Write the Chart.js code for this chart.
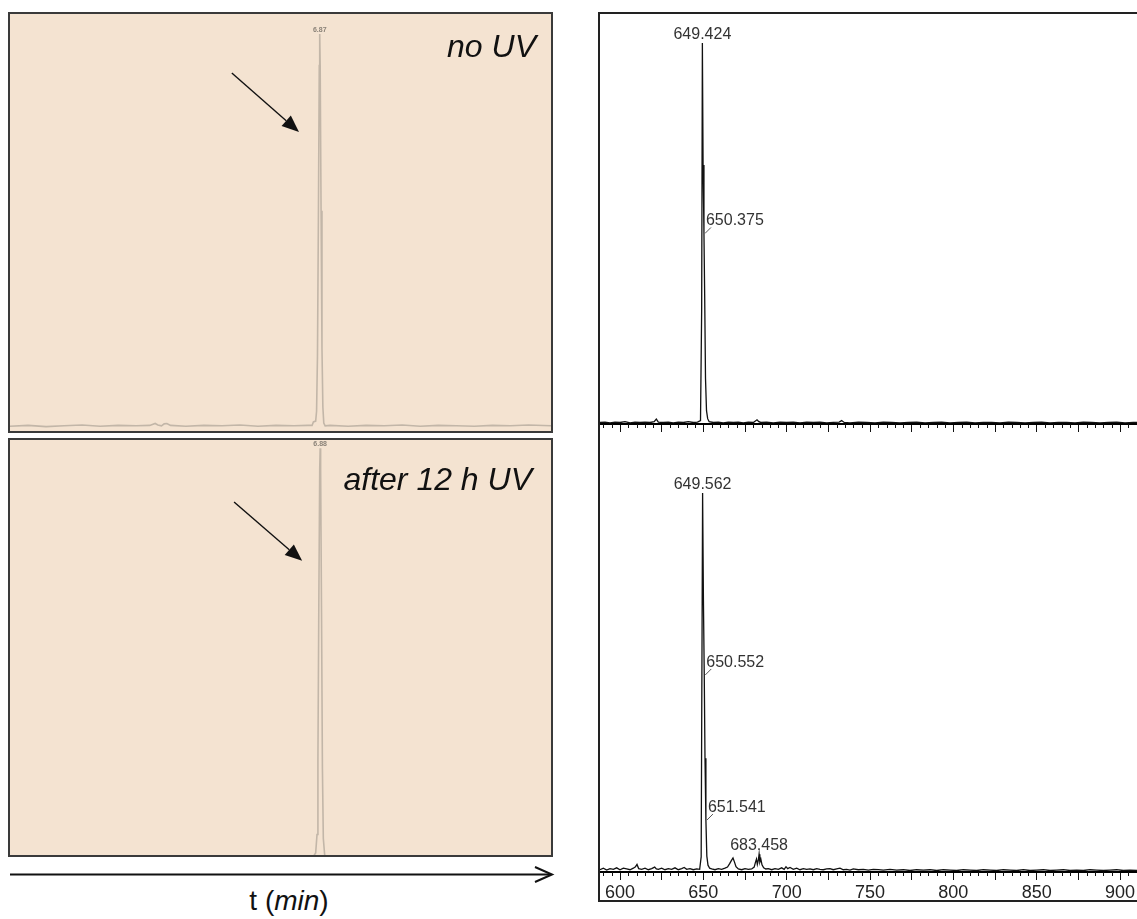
<!DOCTYPE html>
<html>
<head>
<meta charset="utf-8">
<script src="https://cdn.jsdelivr.net/npm/chart.js@4/dist/chart.umd.min.js"></script>
<style>
  html, body { margin: 0; padding: 0; background: #fff; overflow: hidden; }
  body { position: relative; width: 1137px; height: 919px; font-family: "Liberation Sans", Arial, sans-serif; }
  .chrom { position: absolute; box-sizing: border-box; background: #f4e3d1; border: 2px solid #3a3a3a; }
  .chrom canvas { position: absolute; left: 0; top: 0; }
  .frame { position: absolute; box-sizing: border-box; border: 2px solid #222; }
  .ms { position: absolute; display: block; }
  .caption { position: absolute; font-style: italic; font-size: 32px; line-height: 32px; color: #111; white-space: nowrap; }
  #tAxis { position: absolute; left: 189px; top: 887px; width: 200px; text-align: center; font-size: 28px; line-height: 28px; color: #111; }
  #tArrow { position: absolute; left: 0; top: 860px; }
</style>
</head>
<body>

<div class="chrom" style="left:8px; top:12px; width:545px; height:421px;">
  <canvas id="chromNoUv" width="541" height="417"></canvas>
</div>
<div class="chrom" style="left:8px; top:438px; width:545px; height:419px;">
  <canvas id="chromUv" width="541" height="415"></canvas>
</div>
<div class="caption" style="right:601px; top:30px;">no UV</div>
<div class="caption" style="right:605px; top:463px;">after 12 h UV</div>

<svg id="tArrow" width="560" height="30">
  <line x1="10" y1="14.5" x2="551" y2="14.5" stroke="#111" stroke-width="2"/>
  <polyline points="535,7 552,14.5 535,22" fill="none" stroke="#111" stroke-width="2"/>
</svg>
<div id="tAxis">t (<i>min</i>)</div>

<div class="frame" style="left:598px; top:12px; width:640px; height:890px;"></div>
<canvas class="ms" id="msTop" style="left:600px; top:14px;" width="540" height="420"></canvas>
<canvas class="ms" id="msBottom" style="left:600px; top:434px;" width="540" height="466"></canvas>

<script>
// ---- HPLC traces (retention time in min, relative absorbance in %) ----
const chromNoUvTime = [0.00, 0.40, 0.80, 1.20, 1.60, 2.00, 2.40, 2.80, 3.10, 3.22,
                       3.28, 3.36, 3.42, 3.48, 3.56, 3.90, 4.30, 4.70, 5.10, 5.50,
                       5.90, 6.30, 6.60, 6.70, 6.73, 6.78, 6.80, 6.82, 6.84, 6.86,
                       6.87, 6.88, 6.90, 6.92, 6.94, 6.96, 6.99, 7.10, 7.50, 7.90,
                       8.30, 8.70, 9.10, 9.50, 9.90, 10.30, 10.70, 11.10, 11.50, 12.00];
const chromNoUvSignal = [0.2, 0.4, 0.1, 0.3, 0.5, 0.2, 0.4, 0.3, 0.4, 0.9,
                         0.5, 0.3, 0.8, 0.9, 0.4, 0.2, 0.4, 0.3, 0.5, 0.2,
                         0.4, 0.3, 0.4, 0.4, 1.3, 1.5, 4, 18, 52, 92,
                         100, 92, 55, 20, 5, 1.0, 0.3, 0.4, 0.2, 0.4,
                         0.3, 0.5, 0.2, 0.4, 0.3, 0.2, 0.4, 0.3, 0.5, 0.3];
const chromNoUvPeak = 6.87;

const chromUvTime = [0.00, 0.50, 1.00, 1.50, 2.00, 2.50, 3.00, 3.50, 4.00, 4.50,
                     5.00, 5.50, 6.00, 6.50, 6.72, 6.78, 6.81, 6.83, 6.85, 6.87,
                     6.88, 6.89, 6.91, 6.93, 6.95, 6.98, 7.04, 7.50, 8.00, 8.50,
                     9.00, 9.50, 10.00, 10.50, 11.00, 11.50, 12.00];
const chromUvSignal = [0.2, 0.3, 0.2, 0.4, 0.2, 0.3, 0.2, 0.3, 0.2, 0.3,
                       0.2, 0.3, 0.2, 0.3, 0.5, 1.5, 6, 24, 62, 95,
                       100, 95, 60, 22, 5, 1.0, 0.3, 0.2, 0.3, 0.2,
                       0.3, 0.2, 0.3, 0.2, 0.3, 0.2, 0.2];
const chromUvPeak = 6.88;

// ---- Mass spectra (m/z, relative intensity in %) ----
const mzTop = [588, 591, 594, 597, 600, 603, 606, 609, 612, 615,
               618, 620.5, 621.8, 623, 626, 629, 632, 635, 638, 641,
               644, 646.5, 648.3, 649.0, 649.424, 649.85, 650.375, 650.8, 651.3, 651.9,
               652.6, 653.5, 656, 659, 662, 665, 668, 671, 674, 677,
               680, 682.2, 683.3, 684.5, 688, 692, 696, 700, 704, 708,
               712, 716, 720, 724, 728, 731.5, 733, 734.5, 738, 743,
               748, 753, 758, 763, 768, 773, 778, 783, 788, 793,
               798, 803, 808, 813, 818, 823, 828, 833, 838, 843,
               848, 853, 858, 863, 868, 873, 878, 883, 888, 893,
               898, 903, 908, 912];
const intTop = [0.4, 0.5, 0.3, 0.5, 0.4, 0.6, 0.3, 0.5, 0.4, 0.5,
                0.4, 0.6, 1.3, 0.5, 0.4, 0.5, 0.3, 0.5, 0.4, 0.6,
                0.4, 0.5, 0.9, 30, 100, 68, 50, 34, 12, 3.5,
                1.4, 0.6, 0.4, 0.5, 0.3, 0.5, 0.4, 0.5, 0.3, 0.5,
                0.4, 1.1, 0.6, 0.4, 0.5, 0.3, 0.5, 0.4, 0.5, 0.3,
                0.5, 0.4, 0.5, 0.3, 0.4, 0.5, 0.9, 0.4, 0.3, 0.5,
                0.4, 0.3, 0.5, 0.4, 0.3, 0.4, 0.5, 0.3, 0.4, 0.5,
                0.3, 0.4, 0.5, 0.3, 0.4, 0.4, 0.3, 0.5, 0.4, 0.3,
                0.4, 0.5, 0.3, 0.4, 0.4, 0.3, 0.5, 0.4, 0.3, 0.4,
                0.5, 0.3, 0.4, 0.4];
const topLabelMz = [649.424, 650.375];
const topLabelSide = ['above', 'right'];

const mzBottom = [588, 590, 592, 594, 596, 598, 600, 602, 604, 606,
                  608, 609.3, 610.2, 611.2, 613, 615, 617, 619, 620.8, 621.8,
                  623, 625, 627, 629, 631, 633, 635, 637, 638.5, 640,
                  642, 644, 646, 647.8, 648.7, 649.562, 650.05, 650.552, 651.0, 651.541,
                  652.1, 652.8, 653.8, 655, 657, 659, 661, 663, 664.5, 665.8,
                  666.8, 667.8, 668.7, 669.6, 671, 673, 675, 677, 679, 680.5,
                  681.3, 681.9, 682.4, 683.0, 683.458, 683.9, 684.5, 685.2, 686.2, 687.5,
                  689, 691, 693, 695, 697, 698.5, 699.6, 700.6, 702, 704,
                  706, 708, 710, 712, 714, 716, 718, 720, 722, 724,
                  726, 728, 730, 732, 734, 736, 738, 740, 743, 746,
                  749, 752, 755, 758, 762, 766, 770, 774, 778, 782,
                  786, 790, 794, 798, 802, 806, 810, 814, 818, 822,
                  826, 830, 834, 838, 842, 846, 850, 854, 858, 862,
                  866, 870, 874, 878, 882, 886, 890, 894, 898, 902,
                  906, 910, 912];
const intBottom = [0.6, 1.0, 0.5, 0.9, 0.7, 1.1, 0.6, 1.0, 0.8, 0.6,
                   1.0, 1.4, 2.0, 0.9, 0.7, 1.0, 0.6, 0.9, 1.3, 0.8,
                   0.7, 1.0, 0.6, 0.9, 0.7, 1.1, 0.6, 0.9, 1.2, 0.7,
                   0.9, 0.6, 0.8, 0.7, 4.0, 100, 72, 52, 30, 13.7,
                   4.2, 1.8, 1.0, 0.8, 0.6, 0.9, 0.7, 1.0, 1.3, 2.2,
                   3.0, 3.7, 2.6, 1.4, 0.8, 0.6, 0.9, 0.7, 0.8, 1.3,
                   2.6, 3.4, 2.0, 3.1, 4.7, 2.6, 3.4, 1.9, 1.1, 0.8,
                   0.9, 0.6, 0.9, 0.7, 1.1, 0.7, 1.4, 0.9, 1.2, 0.7,
                   1.0, 0.6, 0.9, 0.7, 0.8, 0.6, 0.9, 0.7, 0.6, 0.8,
                   0.9, 0.6, 0.8, 1.0, 0.6, 0.7, 0.5, 0.8, 0.6, 0.7,
                   0.5, 0.7, 0.6, 0.5, 0.7, 0.5, 0.6, 0.4, 0.6, 0.5,
                   0.6, 0.4, 0.6, 0.5, 0.4, 0.6, 0.5, 0.4, 0.6, 0.5,
                   0.4, 0.6, 0.5, 0.4, 0.6, 0.4, 0.5, 0.6, 0.4, 0.5,
                   0.6, 0.4, 0.5, 0.4, 0.6, 0.5, 0.4, 0.5, 0.6, 0.4,
                   0.5, 0.4, 0.5];
const bottomLabelMz = [649.562, 650.552, 651.541, 683.458];
const bottomLabelSide = ['above', 'right', 'right', 'above'];

// m/z axis: labelled values, major and minor tick spacing
const mzTickLabels = [600, 650, 700, 750, 800, 850, 900];
const MZ_MIN = 588, MZ_MAX = 912;
const MZ_MAJOR = 25, MZ_MINOR = 5;

const FONT = '"Liberation Sans", Arial, sans-serif';

function toPoints(xs, ys) {
  const n = Math.min(xs.length, ys.length);
  const pts = [];
  for (let i = 0; i < n; i++) pts.push({ x: xs[i], y: ys[i] });
  return pts;
}
function valueAt(xs, ys, x) {
  const i = xs.findIndex(v => Math.abs(v - x) < 1e-9);
  return i >= 0 ? ys[i] : 0;
}

// Retention-time label over the apex plus a pointer arrow, both in data coordinates
const chromDecor = {
  id: 'chromDecor',
  afterDatasetsDraw(chart, args, opts) {
    const { ctx, scales: { x, y } } = chart;
    ctx.save();
    const ax = x.getPixelForValue(opts.peakTime);
    const ay = y.getPixelForValue(opts.peakHeight);
    ctx.font = 'bold 7px ' + FONT;
    ctx.fillStyle = '#8a8278';
    ctx.textAlign = 'center';
    ctx.textBaseline = 'alphabetic';
    ctx.fillText(opts.peakTime.toFixed(2), ax, ay - 2);

    const x0 = x.getPixelForValue(opts.arrowFrom[0]), y0 = y.getPixelForValue(opts.arrowFrom[1]);
    const x1 = x.getPixelForValue(opts.arrowTo[0]), y1 = y.getPixelForValue(opts.arrowTo[1]);
    const ang = Math.atan2(y1 - y0, x1 - x0);
    const headLen = 17, headHalf = 7;
    const bx = x1 - headLen * Math.cos(ang), by = y1 - headLen * Math.sin(ang);
    ctx.strokeStyle = '#111';
    ctx.fillStyle = '#111';
    ctx.lineWidth = 1.4;
    ctx.beginPath(); ctx.moveTo(x0, y0); ctx.lineTo(bx, by); ctx.stroke();
    ctx.beginPath();
    ctx.moveTo(x1, y1);
    ctx.lineTo(bx + headHalf * Math.sin(ang), by - headHalf * Math.cos(ang));
    ctx.lineTo(bx - headHalf * Math.sin(ang), by + headHalf * Math.cos(ang));
    ctx.closePath(); ctx.fill();
    ctx.restore();
  }
};

function chromChart(id, times, signal, peakTime, yMin, yMax, arrowFrom, arrowTo) {
  return new Chart(document.getElementById(id), {
    type: 'line',
    data: { datasets: [{ data: toPoints(times, signal), borderColor: '#c2b6a8', borderWidth: 1.6,
                         pointRadius: 0, tension: 0, fill: false }] },
    options: {
      responsive: false, animation: false, events: [],
      layout: { padding: 0 },
      plugins: {
        legend: { display: false }, tooltip: { enabled: false },
        chromDecor: { peakTime, peakHeight: valueAt(times, signal, peakTime), arrowFrom, arrowTo }
      },
      scales: {
        x: { type: 'linear', display: false, min: 0, max: 12 },
        y: { display: false, min: yMin, max: yMax }
      }
    },
    plugins: [chromDecor]
  });
}

chromChart('chromNoUv', chromNoUvTime, chromNoUvSignal, chromNoUvPeak, -1.02, 105.1, [4.92, 90.1], [6.41, 75.1]);
// lower trace: its flat baseline sits just below the frame edge
chromChart('chromUv', chromUvTime, chromUvSignal, chromUvPeak, 1.0, 102.0, [4.97, 86.9], [6.48, 72.6]);

// Short minor ticks between the longer major ticks of the m/z axis
const minorTicks = {
  id: 'minorTicks',
  afterDraw(chart) {
    const { ctx, chartArea, scales: { x } } = chart;
    ctx.save();
    ctx.strokeStyle = '#111';
    ctx.lineWidth = 1;
    for (const t of x.ticks) {
      if (t.value % MZ_MAJOR === 0) continue;
      const px = Math.round(x.getPixelForValue(t.value)) + 0.5;
      ctx.beginPath(); ctx.moveTo(px, chartArea.bottom); ctx.lineTo(px, chartArea.bottom + 4); ctx.stroke();
    }
    ctx.restore();
  }
};

// Peak annotations: m/z printed above the apex, or to the right with a short leader
const peakLabels = {
  id: 'peakLabels',
  afterDatasetsDraw(chart, args, opts) {
    const { ctx, scales: { x, y } } = chart;
    ctx.save();
    ctx.font = '16px ' + FONT;
    ctx.fillStyle = '#333';
    ctx.strokeStyle = '#555';
    ctx.lineWidth = 1;
    opts.mz.forEach((m, i) => {
      const px = x.getPixelForValue(m);
      const py = y.getPixelForValue(valueAt(opts.xs, opts.ys, m));
      const text = m.toFixed(3);
      if (opts.side[i] === 'above') {
        ctx.textAlign = 'center';
        ctx.fillText(text, px, py - 4);
      } else {
        ctx.beginPath(); ctx.moveTo(px + 1, py); ctx.lineTo(px + 7, py - 6); ctx.stroke();
        ctx.textAlign = 'left';
        ctx.fillText(text, px + 2, py - 8);
      }
    });
    ctx.restore();
  }
};

function spectrumChart(id, xs, ys, labelMz, labelSide, yMax, axisHeight, showLabels) {
  return new Chart(document.getElementById(id), {
    type: 'line',
    data: { datasets: [{ data: toPoints(xs, ys), borderColor: '#111', borderWidth: 1.3,
                         pointRadius: 0, tension: 0, fill: false }] },
    options: {
      responsive: false, animation: false, events: [],
      layout: { padding: 0 },
      plugins: {
        legend: { display: false }, tooltip: { enabled: false },
        peakLabels: { mz: labelMz, side: labelSide, xs, ys }
      },
      scales: {
        x: {
          type: 'linear', min: MZ_MIN, max: MZ_MAX,
          afterFit: s => { s.height = axisHeight; },
          ticks: {
            stepSize: MZ_MINOR, autoSkip: false, maxRotation: 0, minRotation: 0,
            includeBounds: false, display: showLabels, padding: 2,
            color: '#222', font: { size: 18, family: FONT },
            callback: v => mzTickLabels.includes(v) ? String(v) : ''
          },
          grid: {
            display: true, drawOnChartArea: false, drawTicks: true, tickLength: 8, tickWidth: 1,
            tickColor: c => (c.tick && c.tick.value % MZ_MAJOR === 0) ? '#111' : 'rgba(0,0,0,0)'
          },
          border: { display: true, color: '#000', width: 2 }
        },
        y: { display: false, min: 0, max: yMax }
      }
    },
    plugins: [minorTicks, peakLabels]
  });
}

spectrumChart('msTop', mzTop, intTop, topLabelMz, topLabelSide, 107.6, 10, false);
spectrumChart('msBottom', mzBottom, intBottom, bottomLabelMz, bottomLabelSide, 115.6, 28, true);
</script>
</body>
</html>
